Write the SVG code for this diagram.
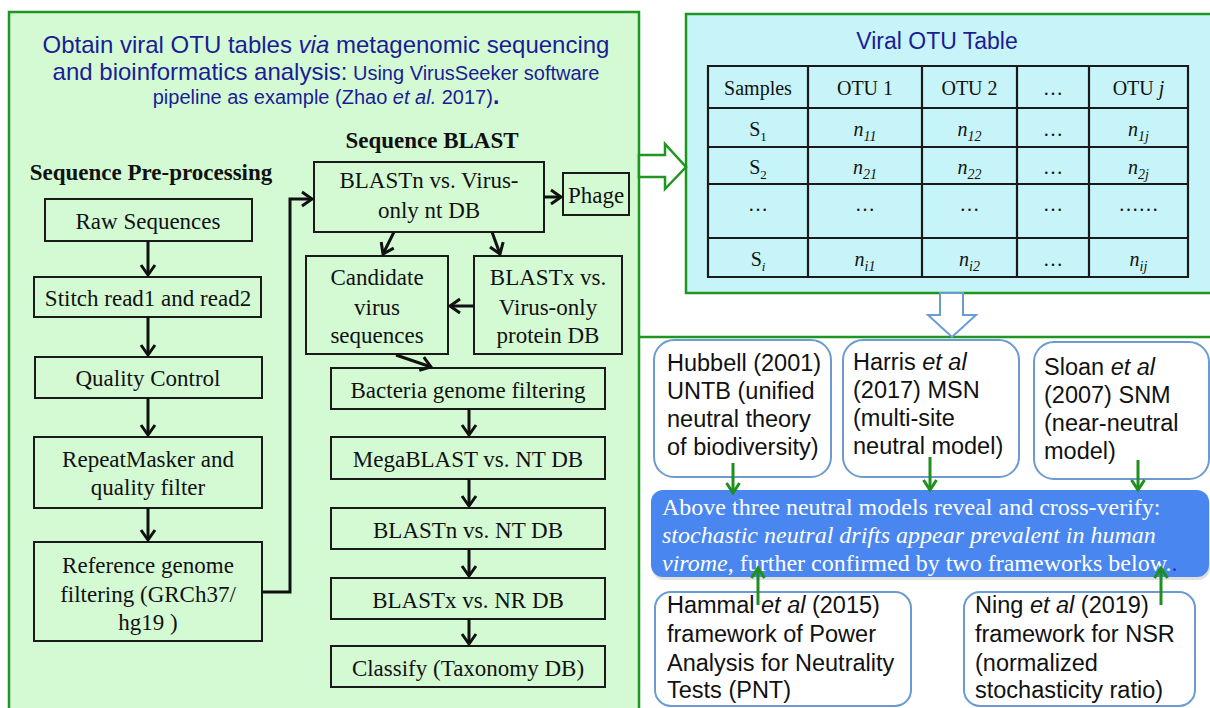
<svg xmlns="http://www.w3.org/2000/svg" width="1210" height="708" viewBox="0 0 1210 708">
<defs>
<style>
.panel{fill:#d4fad4;stroke:#1f961f;stroke-width:2.5}
.tpanel{fill:#c6f4f9;stroke:#1f961f;stroke-width:2.5}
.box{fill:none;stroke:#1a1a1a;stroke-width:2}
.t{font-family:"Liberation Serif","Times New Roman",serif;font-size:23px;fill:#111;text-anchor:middle}
.h{font-weight:bold}
.title{font-family:"Liberation Sans",Arial,sans-serif;fill:#1c1c94;text-anchor:middle}
.tab{font-family:"Liberation Serif","Times New Roman",serif;font-size:20px;fill:#111;text-anchor:middle}
.grid{stroke:#1a1a1a;stroke-width:2.2;fill:none}
.rbox{fill:#fff;stroke:#6b9bd0;stroke-width:2}
.s{font-family:"Liberation Sans",Arial,sans-serif;font-size:23.5px;fill:#111}
.w{font-family:"Liberation Serif","Times New Roman",serif;font-size:24px;fill:#fff}
.blk{stroke:#111;stroke-width:3;fill:none}
.grn{stroke:#1f8f1f;stroke-width:3;fill:none}
.i{font-style:italic}
</style>
<marker id="ab" viewBox="-13 -9 15 18" refX="0" refY="0" markerWidth="15" markerHeight="18" markerUnits="userSpaceOnUse" orient="auto" overflow="visible"><path d="M-10,-7 L0,0 L-10,7" fill="none" stroke="#111" stroke-width="3"/></marker>
<marker id="ag" viewBox="-13 -9 15 18" refX="0" refY="0" markerWidth="15" markerHeight="18" markerUnits="userSpaceOnUse" orient="auto" overflow="visible"><path d="M-10,-6.5 L0,0 L-10,6.5" fill="none" stroke="#1f8f1f" stroke-width="3"/></marker>
</defs>
<rect width="1210" height="708" fill="#fff"/>

<g id="left-panel">
<rect class="panel" x="9" y="12" width="630" height="712"/>
<text class="title" x="326" y="53" font-size="24">Obtain viral OTU tables <tspan class="i">via</tspan> metagenomic sequencing</text>
<text class="title" x="326" y="80" font-size="24">and bioinformatics analysis:<tspan font-size="20"> Using VirusSeeker software</tspan></text>
<text class="title" x="326" y="104" font-size="20">pipeline as example (Zhao <tspan class="i">et al.</tspan> 2017)<tspan font-weight="bold" font-size="23">.</tspan></text>
<text class="t h" x="432" y="148">Sequence BLAST</text>
<text class="t h" x="151" y="180">Sequence Pre-processing</text>
</g>

<g id="raw"><rect class="box" x="45" y="199" width="207" height="42"/><text class="t" x="148" y="229">Raw Sequences</text></g>
<g id="stitch"><rect class="box" x="34" y="277" width="227" height="40"/><text class="t" x="148" y="306">Stitch read1 and read2</text></g>
<g id="qc"><rect class="box" x="35" y="357" width="227" height="41"/><text class="t" x="148" y="386">Quality Control</text></g>
<g id="repeat"><rect class="box" x="34" y="437" width="228" height="71"/><text class="t" x="148" y="467">RepeatMasker and</text><text class="t" x="148" y="495">quality filter</text></g>
<g id="ref"><rect class="box" x="34" y="542" width="228" height="99"/><text class="t" x="148" y="573">Reference genome</text><text class="t" x="148" y="602">filtering (GRCh37/</text><text class="t" x="148" y="630">hg19 )</text></g>

<g id="blastn-virus"><rect class="box" x="314" y="162" width="230" height="70"/><text class="t" x="429" y="188">BLASTn vs. Virus-</text><text class="t" x="429" y="218">only nt DB</text></g>
<g id="phage"><rect class="box" x="563" y="173" width="66" height="42"/><text class="t" x="596" y="203">Phage</text></g>
<g id="candidate"><rect class="box" x="306" y="256" width="142" height="98"/><text class="t" x="377" y="285">Candidate</text><text class="t" x="377" y="315">virus</text><text class="t" x="377" y="343">sequences</text></g>
<g id="blastx-virus"><rect class="box" x="474" y="256" width="148" height="98"/><text class="t" x="548" y="285">BLASTx vs.</text><text class="t" x="548" y="315">Virus-only</text><text class="t" x="548" y="343">protein DB</text></g>
<g id="bacteria"><rect class="box" x="331" y="368" width="274" height="41"/><text class="t" x="468" y="398">Bacteria genome filtering</text></g>
<g id="megablast"><rect class="box" x="331" y="437" width="274" height="42"/><text class="t" x="468" y="467">MegaBLAST vs. NT DB</text></g>
<g id="blastn-nt"><rect class="box" x="331" y="508" width="274" height="41"/><text class="t" x="468" y="538">BLASTn vs. NT DB</text></g>
<g id="blastx-nr"><rect class="box" x="331" y="578" width="274" height="41"/><text class="t" x="468" y="608">BLASTx vs. NR DB</text></g>
<g id="classify"><rect class="box" x="331" y="646" width="274" height="41"/><text class="t" x="468" y="676">Classify (Taxonomy DB)</text></g>

<g id="otu-table">
<rect class="tpanel" x="686" y="14" width="540" height="279"/>
<text class="title" x="937" y="49" font-size="23">Viral OTU Table</text>
<path class="grid" d="M708,66H1188V277H708Z M808,66V277 M922,66V277 M1017,66V277 M1089,66V277 M708,108H1188 M708,147H1188 M708,184H1188 M708,238H1188"/>
<text class="tab" x="758" y="95">Samples</text>
<text class="tab" x="865" y="95">OTU 1</text>
<text class="tab" x="969.5" y="95">OTU 2</text>
<text class="tab" x="1053" y="95">…</text>
<text class="tab" x="1138.5" y="95">OTU <tspan class="i">j</tspan></text>
<text class="tab" x="758" y="136">S<tspan font-size="13" dy="5">1</tspan></text>
<text class="tab i" x="865" y="136">n<tspan font-size="14" dy="5">11</tspan></text>
<text class="tab i" x="969.5" y="136">n<tspan font-size="14" dy="5">12</tspan></text>
<text class="tab" x="1053" y="136">…</text>
<text class="tab i" x="1138.5" y="136">n<tspan font-size="14" dy="5">1j</tspan></text>
<text class="tab" x="758" y="174">S<tspan font-size="13" dy="5">2</tspan></text>
<text class="tab i" x="865" y="174">n<tspan font-size="14" dy="5">21</tspan></text>
<text class="tab i" x="969.5" y="174">n<tspan font-size="14" dy="5">22</tspan></text>
<text class="tab" x="1053" y="174">…</text>
<text class="tab i" x="1138.5" y="174">n<tspan font-size="14" dy="5">2j</tspan></text>
<text class="tab" x="758" y="211">…</text>
<text class="tab" x="865" y="211">…</text>
<text class="tab" x="969.5" y="211">…</text>
<text class="tab" x="1053" y="211">…</text>
<text class="tab" x="1138.5" y="211">……</text>
<text class="tab" x="758" y="266">S<tspan class="i" font-size="13" dy="5">i</tspan></text>
<text class="tab i" x="865" y="266">n<tspan font-size="14" dy="5">i1</tspan></text>
<text class="tab i" x="969.5" y="266">n<tspan font-size="14" dy="5">i2</tspan></text>
<text class="tab" x="1053" y="266">…</text>
<text class="tab i" x="1138.5" y="266">n<tspan font-size="14" dy="5">ij</tspan></text>
</g>

<g id="models-panel">
<path d="M639,337H1212" stroke="#1f961f" stroke-width="2.5" fill="none"/>
</g>
<g id="hubbell"><rect class="rbox" x="654" y="340" width="177" height="137" rx="20"/>
<text class="s" x="667" y="371">Hubbell (2001)</text><text class="s" x="667" y="399">UNTB (unified</text><text class="s" x="667" y="427">neutral theory</text><text class="s" x="667" y="455">of biodiversity)</text></g>
<g id="harris"><rect class="rbox" x="843" y="340" width="176" height="137" rx="20"/>
<text class="s" x="853" y="370">Harris <tspan class="i">et al</tspan></text><text class="s" x="853" y="398">(2017) MSN</text><text class="s" x="853" y="426">(multi-site</text><text class="s" x="853" y="454">neutral model)</text></g>
<g id="sloan"><rect class="rbox" x="1034" y="342" width="175" height="137" rx="20"/>
<text class="s" x="1044" y="375">Sloan <tspan class="i">et al</tspan></text><text class="s" x="1044" y="403">(2007) SNM</text><text class="s" x="1044" y="431">(near-neutral</text><text class="s" x="1044" y="459">model)</text></g>
<g id="conclusion"><rect x="652" y="493" width="558" height="87" rx="12" fill="#000" opacity="0.12"/><rect x="651" y="490" width="558" height="87" rx="12" fill="#4a86f0"/>
<text class="w" x="662" y="515">Above three neutral models reveal and cross-verify:</text>
<text class="w i" x="662" y="543">stochastic neutral drifts appear prevalent in human</text>
<text class="w" x="662" y="571"><tspan class="i">virome</tspan>, further confirmed by two frameworks below.<tspan fill="#1a2ad0">.</tspan></text></g>
<g id="hammal"><rect class="rbox" x="655" y="592" width="256" height="114" rx="16"/>
<text class="s" x="667" y="613">Hammal <tspan class="i">et al</tspan> (2015)</text><text class="s" x="667" y="642">framework of Power</text><text class="s" x="667" y="671">Analysis for Neutrality</text><text class="s" x="667" y="698">Tests (PNT)</text></g>
<g id="ning"><rect class="rbox" x="964" y="592" width="231" height="114" rx="16"/>
<text class="s" x="975" y="613">Ning <tspan class="i">et al</tspan> (2019)</text><text class="s" x="975" y="642">framework for NSR</text><text class="s" x="975" y="671">(normalized</text><text class="s" x="975" y="698">stochasticity ratio)</text></g>

<g id="connectors">
<polygon points="639,155 665,155 665,144 686,167 665,189 665,177 639,177" fill="#fff" stroke="#1f961f" stroke-width="2.5" stroke-linejoin="miter"/>
<polygon points="940,293 963,293 963,315 976,315 952,337 928,315 940,315" fill="#fff" stroke="#6b9bd0" stroke-width="2"/>
<path class="blk" marker-end="url(#ab)" d="M148,241V275"/>
<path class="blk" marker-end="url(#ab)" d="M148,317V355"/>
<path class="blk" marker-end="url(#ab)" d="M148,398V435"/>
<path class="blk" marker-end="url(#ab)" d="M148,508V540"/>
<path class="blk" marker-end="url(#ab)" d="M262,592H290V199H312"/>
<path class="blk" marker-end="url(#ab)" d="M544,197H561"/>
<path class="blk" marker-end="url(#ab)" d="M394,232L383,254"/>
<path class="blk" marker-end="url(#ab)" d="M492,232L500,254"/>
<path class="blk" marker-end="url(#ab)" d="M474,306H450"/>
<path class="blk" marker-end="url(#ab)" d="M396,355L431,367"/>
<path class="blk" marker-end="url(#ab)" d="M469,409V435"/>
<path class="blk" marker-end="url(#ab)" d="M469,479V506"/>
<path class="blk" marker-end="url(#ab)" d="M469,549V576"/>
<path class="blk" marker-end="url(#ab)" d="M469,619V644"/>
<path class="grn" marker-end="url(#ag)" d="M733,463V493"/>
<path class="grn" marker-end="url(#ag)" d="M930,457V490"/>
<path class="grn" marker-end="url(#ag)" d="M1138,460V490"/>
<path class="grn" marker-end="url(#ag)" d="M758,605V568"/>
<path class="grn" marker-end="url(#ag)" d="M1161,605V568"/>
</g>
</svg>
